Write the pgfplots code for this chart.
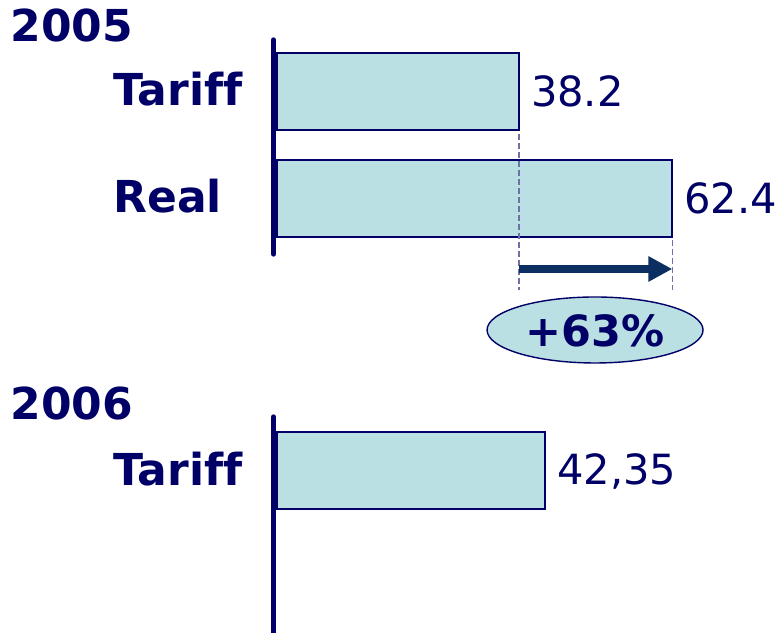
\documentclass[border=0pt]{standalone}
\usepackage{fontspec}
\setmainfont[Ligatures={NoCommon}]{DejaVu Sans}
\usepackage{pgfplots}
\pgfplotsset{compat=1.18}
\usetikzlibrary{arrows.meta}
\definecolor{navy}{HTML}{000066}
\definecolor{barfill}{HTML}{BBE0E3}
\definecolor{arrowblue}{HTML}{0A2F60}
\definecolor{dashblue}{HTML}{7070A8}
\begin{document}
\begin{tikzpicture}
\begin{axis}[
  x=3.1675pt, y=0.5pt, y dir=reverse,
  xmin=-43.73, xmax=79.24, ymin=0, ymax=633,
  hide axis, clip=false,
  xbar, bar width=38.5pt, bar shift=0pt,
  nodes near coords, point meta=explicit symbolic,
  every node near coord/.append style={anchor=west, inner sep=0pt, xshift=5.5pt,
    text=navy, font=\fontsize{20.8}{24}\selectfont},
]
\path (axis cs:-43.73,0) rectangle (axis cs:79.24,633);
% bars: value, vertical position (px from top)
\addplot[draw=navy, line width=1pt, fill=barfill] coordinates {
  (38.2,91.5) [38.2]
  (62.4,198.5) [62.4]
  (42.35,471) [42,35]
};
% axis lines
\draw[navy, line width=2.7pt, line cap=round] (axis cs:-0.55,40) -- (axis cs:-0.55,254);
\draw[navy, line width=2.7pt] (axis cs:-0.55,417) -- (axis cs:-0.55,633);
\draw[navy, line width=2.7pt, line cap=round] (axis cs:-0.55,417) -- (axis cs:-0.55,430);
% difference marker
\draw[dashblue, line width=0.6pt, dash pattern=on 3pt off 1.5pt] (axis cs:38.2,134) -- (axis cs:38.2,290);
\draw[dashblue, line width=0.6pt, dash pattern=on 3pt off 1.5pt] (axis cs:62.4,240) -- (axis cs:62.4,290);
\draw[arrowblue, line width=4pt, -{Triangle[length=12pt,width=12pt]}] (axis cs:38.2,269) -- (axis cs:62.4,269);
\filldraw[fill=barfill, draw=navy, line width=0.7pt] (axis cs:50.2,330) ellipse [x radius=54pt, y radius=16.5pt];
\node[text=navy, font=\bfseries\fontsize{21.5}{25}\selectfont] at (axis cs:50.2,331) {+63\%};
% labels
\begin{scope}[every node/.style={anchor=base west, inner sep=0pt, text=navy, font=\bfseries\fontsize{22}{26}\selectfont}]
\node at (axis cs:-42.15,42) {2005};
\node at (axis cs:-25.89,106) {Tariff};
\node at (axis cs:-25.89,213) {Real};
\node at (axis cs:-42.15,420) {2006};
\node at (axis cs:-25.89,486) {Tariff};
\end{scope}
\end{axis}
\end{tikzpicture}
\end{document}
